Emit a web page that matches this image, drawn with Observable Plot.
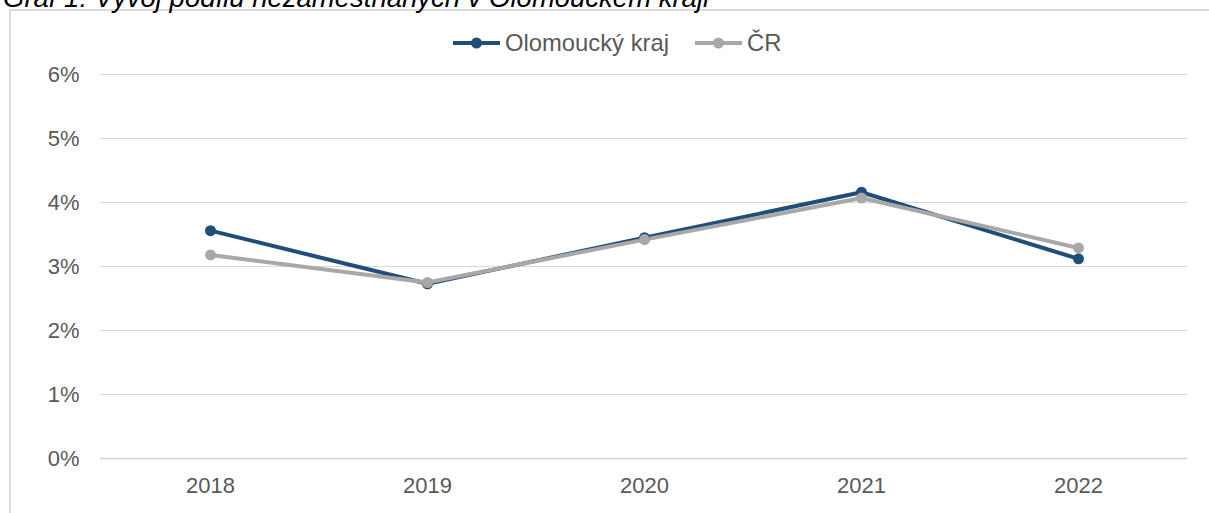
<!DOCTYPE html>
<html>
<head>
<meta charset="utf-8">
<script src="https://cdn.jsdelivr.net/npm/d3@7"></script>
<script src="https://cdn.jsdelivr.net/npm/@observablehq/plot@0.6"></script>
<style>
  html, body { margin: 0; padding: 0; background: #fff; overflow: hidden; }
  #wrap { position: relative; width: 1209px; height: 513px; font-family: "Liberation Sans", Arial, sans-serif; }
  #title { position: absolute; left: 3px; top: -18px; font-size: 27.5px; font-style: italic; color: #000; white-space: nowrap; }
  #frame { position: absolute; left: 9px; top: 9px; width: 1240px; height: 540px; border: 2px solid #dcdcdc; box-sizing: border-box; }
  #legend { position: absolute; top: 29px; left: 453px; display: flex; align-items: center; font-size: 23.8px; color: #595959; white-space: nowrap; }
  #legend .item { display: flex; align-items: center; margin-right: 26px; }
  #legend svg { margin-right: 5px; }
  #chart { position: absolute; left: 0; top: 0; }
</style>
</head>
<body>
<div id="wrap">
  <div id="frame"></div>
  <div id="title">Graf 1: Vývoj podílu nezaměstnaných v Olomouckém kraji</div>
  <div id="chart"></div>
  <div id="legend"></div>
</div>
<script>
const years = ["2018", "2019", "2020", "2021", "2022"];
const olomoucky = [3.56, 2.73, 3.45, 4.16, 3.12];
const cr = [3.18, 2.75, 3.42, 4.07, 3.29];
const seriesNames = ["Olomoucký kraj", "ČR"];
const seriesColors = ["#1f4e79", "#a9a7a7"];
const yTicks = [0, 1, 2, 3, 4, 5, 6];

const data = [];
years.forEach((y, i) => {
  data.push({year: y, value: olomoucky[i], series: seriesNames[0]});
});
years.forEach((y, i) => {
  data.push({year: y, value: cr[i], series: seriesNames[1]});
});

const plot = Plot.plot({
  width: 1209,
  height: 513,
  marginLeft: 100,
  marginRight: 22,
  marginTop: 74,
  marginBottom: 55,
  style: {fontFamily: "'Liberation Sans', Arial, sans-serif", fontSize: "22px", color: "#595959", background: "transparent"},
  x: {type: "point", domain: years, padding: 0.5},
  y: {domain: [0, 6]},
  color: {domain: seriesNames, range: seriesColors},
  marks: [
    Plot.ruleY(yTicks.filter(d => d > 0), {stroke: "#d9d9d9", strokeWidth: 1}),
    Plot.ruleY([0], {stroke: "#d0d0d0", strokeWidth: 1.5}),
    Plot.axisY({ticks: yTicks, tickFormat: d => d + "%", tickSize: 0, tickPadding: 21, label: null, fill: "#595959"}),
    Plot.axisX({tickSize: 0, tickPadding: 19, label: null, fill: "#595959"}),
    Plot.line(data, {x: "year", y: "value", z: "series", stroke: "series", strokeWidth: 4, strokeLinejoin: "round", strokeLinecap: "round"}),
    Plot.dot(data, {x: "year", y: "value", fill: "series", r: 5.5, stroke: null})
  ]
});
document.getElementById("chart").appendChild(plot);

const legend = document.getElementById("legend");
seriesNames.forEach((name, i) => {
  const item = document.createElement("div");
  item.className = "item";
  item.innerHTML = `<svg width="47" height="14"><line x1="0" y1="7" x2="47" y2="7" stroke="${seriesColors[i]}" stroke-width="4"/><circle cx="23.5" cy="7" r="5.5" fill="${seriesColors[i]}"/></svg><span>${name}</span>`;
  legend.appendChild(item);
});
</script>
</body>
</html>
